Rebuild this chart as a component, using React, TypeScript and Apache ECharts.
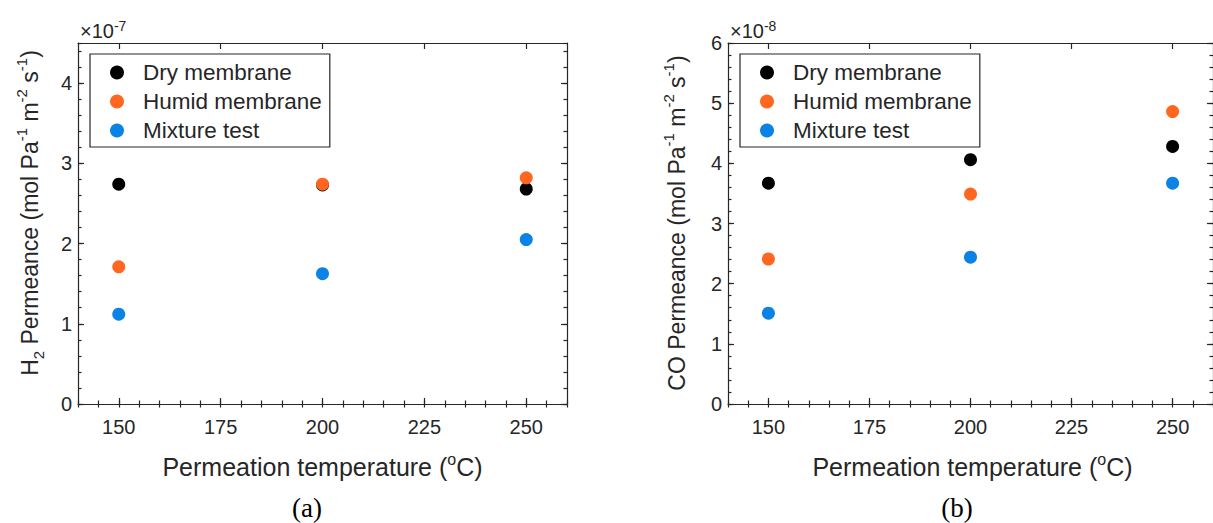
import { useEffect, useRef } from 'react';
import * as echarts from 'echarts';

// Permeation temperatures (°C) at which each membrane was measured
const temperatures = [150, 200, 250];
const xTickValues = [150, 175, 200, 225, 250];

const seriesNames = ['Dry membrane', 'Humid membrane', 'Mixture test'];
const seriesColors = ['#000000', '#FF6620', '#0A82E6'];

// (a) H2 permeance, in units of 1e-7 mol Pa^-1 m^-2 s^-1
const h2Dry = [2.74, 2.73, 2.68];
const h2Humid = [1.71, 2.74, 2.82];
const h2Mixture = [1.12, 1.625, 2.05];
const h2YTicks = [0, 1, 2, 3, 4];

// (b) CO permeance, in units of 1e-8 mol Pa^-1 m^-2 s^-1
const coDry = [3.67, 4.06, 4.28];
const coHumid = [2.41, 3.49, 4.86];
const coMixture = [1.51, 2.44, 3.67];
const coYTicks = [0, 1, 2, 3, 4, 5, 6];

const AX = '#262626';
const FONT = "'Liberation Sans', Arial, Helvetica, sans-serif";
const SERIF = "'Liberation Serif', 'Times New Roman', serif";

const GRID_TOP = 43;
const GRID_W = 489;
const GRID_H = 361;
const X_MIN = 140;
const X_MAX = 260;

const lineStyle = { color: AX, width: 1.2 };

function richStyles(base: number, small: number, lh: number) {
  return {
    t: { fontSize: base, fontFamily: FONT, fill: AX, lineHeight: lh },
    sup: { fontSize: small, fontFamily: FONT, fill: AX, lineHeight: small, verticalAlign: 'top' },
    sub: { fontSize: small, fontFamily: FONT, fill: AX, lineHeight: small, verticalAlign: 'bottom' },
  };
}

function xAxesFor(g: number) {
  const major = (position: string, labels: boolean) => ({
    type: 'value',
    gridIndex: g,
    position,
    min: X_MIN,
    max: X_MAX,
    axisLine: { show: true, onZero: false, lineStyle },
    axisTick: { show: true, inside: true, length: 6, customValues: xTickValues, lineStyle },
    axisLabel: {
      show: labels,
      customValues: xTickValues,
      margin: 13,
      color: AX,
      fontSize: 20,
      fontFamily: FONT,
    },
    splitLine: { show: false },
  });
  const minor = (position: string) => ({
    type: 'value',
    gridIndex: g,
    position,
    min: X_MIN,
    max: X_MAX,
    interval: 5,
    axisLine: { show: false },
    axisTick: { show: true, inside: true, length: 3.5, lineStyle },
    axisLabel: { show: false },
    splitLine: { show: false },
  });
  return [major('bottom', true), minor('bottom'), major('top', false), minor('top')];
}

function yAxesFor(g: number, yMax: number, ticks: number[]) {
  const major = (position: string, labels: boolean) => ({
    type: 'value',
    gridIndex: g,
    position,
    min: 0,
    max: yMax,
    axisLine: { show: true, onZero: false, lineStyle },
    axisTick: { show: true, inside: true, length: 6, customValues: ticks, lineStyle },
    axisLabel: {
      show: labels,
      customValues: ticks,
      margin: 6,
      color: AX,
      fontSize: 20,
      fontFamily: FONT,
    },
    splitLine: { show: false },
  });
  const minor = (position: string) => ({
    type: 'value',
    gridIndex: g,
    position,
    min: 0,
    max: yMax,
    interval: 0.2,
    axisLine: { show: false },
    axisTick: { show: true, inside: true, length: 3.5, lineStyle },
    axisLabel: { show: false },
    splitLine: { show: false },
  });
  return [major('left', true), minor('left'), major('right', false), minor('right')];
}

function seriesFor(g: number, values: number[][]) {
  return seriesNames.map((name, k) => ({
    type: 'scatter',
    name,
    xAxisIndex: 4 * g,
    yAxisIndex: 4 * g,
    data: temperatures.map((t, i) => [t, values[k][i]]),
    symbol: 'circle',
    symbolSize: 13,
    itemStyle: { color: seriesColors[k], opacity: 1 },
    emphasis: { disabled: true },
    z: 3,
  }));
}

const panelLefts = [78, 728];

export default function App() {
  const ref = useRef<HTMLDivElement>(null);

  useEffect(() => {
    if (!ref.current) return;
    const chart = echarts.init(ref.current, undefined, { renderer: 'svg' });

    const yTitleRich = richStyles(23, 15, 32);
    const xTitleRich = richStyles(25, 16, 31);
    const expRich = richStyles(20, 14, 24);

    const option: any = {
      animation: false,
      backgroundColor: '#ffffff',
      grid: panelLefts.map((left) => ({
        left,
        top: GRID_TOP,
        width: GRID_W,
        height: GRID_H,
        containLabel: false,
      })),
      xAxis: [...xAxesFor(0), ...xAxesFor(1)],
      yAxis: [...yAxesFor(0, 4.5, h2YTicks), ...yAxesFor(1, 6, coYTicks)],
      legend: panelLefts.map((left) => ({
        data: seriesNames,
        orient: 'vertical',
        left: left + 12,
        top: 54,
        icon: 'circle',
        itemWidth: 14,
        itemHeight: 14,
        itemGap: 0,
        padding: [4, 8, 2, 20],
        borderColor: AX,
        borderWidth: 1.2,
        selectedMode: false,
        textStyle: {
          fontSize: 22.5,
          fontFamily: FONT,
          color: AX,
          lineHeight: 29,
          padding: [0, 0, 0, 14],
        },
      })),
      series: [
        ...seriesFor(0, [h2Dry, h2Humid, h2Mixture]),
        ...seriesFor(1, [coDry, coHumid, coMixture]),
      ],
      graphic: [
        // scale factors above each y axis
        {
          type: 'text',
          x: 80,
          y: 31,
          style: { text: '{t|×10}{sup|-7}', rich: expRich, align: 'left', verticalAlign: 'middle' },
        },
        {
          type: 'text',
          x: 730,
          y: 31,
          style: { text: '{t|×10}{sup|-8}', rich: expRich, align: 'left', verticalAlign: 'middle' },
        },
        // y axis titles
        {
          type: 'text',
          x: 30,
          y: 213,
          rotation: Math.PI / 2,
          style: {
            text: '{t|H}{sub|2}{t| Permeance (mol Pa}{sup|-1}{t| m}{sup|-2}{t| s}{sup|-1}{t|)}',
            rich: yTitleRich,
            align: 'center',
            verticalAlign: 'middle',
          },
        },
        {
          type: 'text',
          x: 677,
          y: 223,
          rotation: Math.PI / 2,
          style: {
            text: '{t|CO Permeance (mol Pa}{sup|-1}{t| m}{sup|-2}{t| s}{sup|-1}{t|)}',
            rich: yTitleRich,
            align: 'center',
            verticalAlign: 'middle',
          },
        },
        // x axis titles
        ...panelLefts.map((left) => ({
          type: 'text',
          x: left + GRID_W / 2,
          y: 467,
          style: {
            text: '{t|Permeation temperature (}{sup|o}{t|C)}',
            rich: xTitleRich,
            align: 'center',
            verticalAlign: 'middle',
          },
        })),
        // panel captions
        {
          type: 'text',
          x: 307,
          y: 508,
          style: { text: '(a)', fontSize: 27, fontFamily: SERIF, fill: '#000', align: 'center', verticalAlign: 'middle' },
        },
        {
          type: 'text',
          x: 957,
          y: 508,
          style: { text: '(b)', fontSize: 27, fontFamily: SERIF, fill: '#000', align: 'center', verticalAlign: 'middle' },
        },
      ],
    };

    chart.setOption(option);
    return () => chart.dispose();
  }, []);

  return (
    <div
      ref={ref}
      style={{ position: 'absolute', left: 0, top: 0, width: 1213, height: 523, background: '#fff' }}
    />
  );
}
